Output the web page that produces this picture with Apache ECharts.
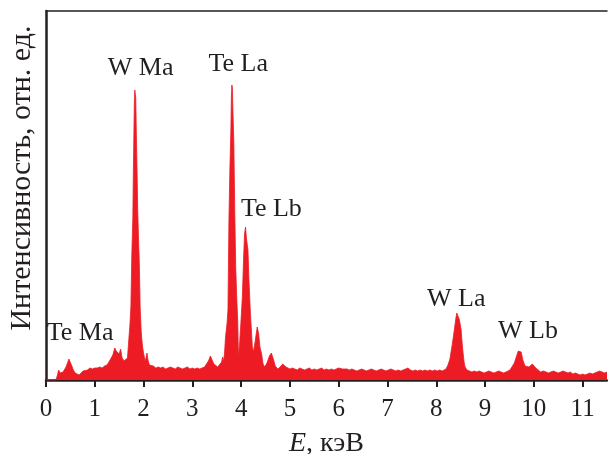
<!DOCTYPE html>
<html>
<head>
<meta charset="utf-8">
<script src="https://cdn.jsdelivr.net/npm/echarts@6/dist/echarts.min.js"></script>
<style>
html,body{margin:0;padding:0;background:#fff;}
#chart{width:608px;height:454px;}
</style>
</head>
<body>
<div id="chart"></div>
<script>
// Energy (keV) of each sampled channel
const energy = [
0.00,0.20,0.23,0.26,0.29,0.32,0.35,0.38,0.41,0.44,0.47,0.50,0.53,0.56,0.60,0.64,0.68,0.72,0.76,0.80,
0.85,0.90,0.95,1.00,1.05,1.10,1.15,1.20,1.25,1.29,1.33,1.37,1.41,1.44,1.47,1.50,1.53,1.56,1.60,1.64,
1.67,1.70,1.72,1.74,1.76,1.78,1.79,1.80,1.81,1.82,1.83,1.84,1.85,1.86,1.87,1.88,1.90,1.91,1.92,1.93,
1.95,1.96,1.98,2.00,2.03,2.05,2.07,2.09,2.12,2.16,2.20,2.25,2.30,2.35,2.40,2.45,2.50,2.55,2.60,2.65,
2.70,2.75,2.80,2.85,2.90,2.95,3.00,3.05,3.10,3.15,3.20,3.25,3.29,3.33,3.37,3.40,3.44,3.48,3.52,3.56,
3.60,3.62,3.64,3.66,3.68,3.71,3.73,3.75,3.77,3.79,3.80,3.81,3.82,3.83,3.85,3.87,3.89,3.91,3.93,3.945,
3.97,3.99,4.025,4.05,4.07,4.09,4.11,4.14,4.16,4.19,4.23,4.25,4.28,4.30,4.33,4.345,4.36,4.385,4.42,4.45,
4.48,4.53,4.58,4.62,4.66,4.70,4.75,4.80,4.85,4.88,4.92,4.96,5.00,5.05,5.10,5.15,5.20,5.25,5.30,5.35,
5.40,5.45,5.50,5.55,5.60,5.65,5.70,5.75,5.80,5.85,5.90,5.95,6.00,6.04,6.08,6.12,6.17,6.22,6.27,6.32,
6.37,6.42,6.47,6.52,6.57,6.62,6.67,6.72,6.77,6.82,6.87,6.92,6.97,7.02,7.07,7.12,7.17,7.22,7.27,7.32,
7.37,7.42,7.47,7.52,7.57,7.62,7.67,7.72,7.77,7.82,7.87,7.92,7.97,8.02,8.07,8.12,8.16,8.20,8.24,8.28,
8.32,8.35,8.37,8.40,8.42,8.45,8.47,8.49,8.51,8.53,8.55,8.57,8.59,8.63,8.68,8.73,8.78,8.83,8.88,8.93,
8.98,9.03,9.08,9.13,9.18,9.23,9.28,9.33,9.38,9.43,9.47,9.51,9.55,9.60,9.64,9.68,9.71,9.74,9.775,9.82,
9.86,9.90,9.94,9.97,10.00,10.04,10.08,10.14,10.20,10.25,10.30,10.35,10.40,10.45,10.50,10.55,10.60,10.65,10.70,10.75,
10.80,10.85,10.90,10.95,11.00,11.05,11.10,11.15,11.20,11.25,11.30,11.35,11.40,11.45,11.50
];
// Intensity (relative units) at each energy
const intensity = [
0,0,4,10,7,9,8,9,13,17,21,19,14,10,7,6,5,7,9,11,
10,12,11,12,12,13,12,14,15,18,20,25,32,29,31,26,31,22,19,17,
22,42,55,73,127,162,205,240,275,290,292,282,252,226,200,170,135,122,100,73,
50,43,33,27,19,22,27,20,15,13,14,12,13,12,13,11,12,13,12,11,
13,12,11,12,13,11,12,11,12,11,12,13,16,19,24,22,16,14,13,15,
18,23,19,27,43,56,70,160,212,250,282,295,292,272,238,167,112,82,60,23,
37,53,83,121,146,153,141,130,100,67,33,28,36,43,53,55,46,33,26,16,
13,17,24,27,21,14,11,13,16,17,13,11,11,12,11,10,12,11,10,11,
12,10,11,10,11,12,10,11,10,11,10,11,12,13,11,10,11,10,11,10,
9,10,11,10,9,10,11,10,9,10,11,10,9,10,11,10,9,10,9,10,
11,12,10,9,10,9,10,9,10,9,10,9,10,9,10,9,10,11,15,21,
33,43,50,61,67,65,61,56,50,37,27,18,13,10,9,8,9,8,9,8,
7,8,9,8,7,8,9,8,7,8,9,10,13,17,23,29,31,28,20,14,
12,13,15,16,14,12,10,8,9,8,7,8,9,8,7,8,9,8,7,8,
6,7,6,5,6,5,6,7,6,7,8,9,8,7,8
];
// Tick labels on the energy axis
const tickValues = [0,1,2,3,4,5,6,7,8,9,10,11];
// Peak annotations: name, energy (keV), intensity position
const peakNames = ['Te Ma','W Ma','Te La','Te Lb','W La','W Lb'];
const peakE = [0.70,1.94,3.94,4.62,8.41,9.88];
const peakI = [47,312,316,171,81,49];

const xMin = 0, xMax = 11.5, yMax = 369;

const spectrum = energy.map((e,i)=>[e,intensity[i]]);
const annotations = peakNames.map((n,i)=>({name:n,value:[peakE[i],peakI[i]]}));

const ink = '#231f20';
const red = '#ed1c24';
const serif = 'Liberation Serif';

const chart = echarts.init(document.getElementById('chart'), null, {renderer:'canvas'});
chart.setOption({
  animation:false,
  backgroundColor:'#fff',
  grid:{left:46,right:1,top:11,bottom:74,outerBoundsMode:'none',containLabel:false},
  xAxis:[{
    type:'value',min:xMin,max:xMax,
    position:'bottom',
    axisLine:{show:true,onZero:false,lineStyle:{color:ink,width:2.5}},
    axisTick:{show:true,inside:false,length:7,customValues:tickValues,lineStyle:{color:ink,width:2}},
    axisLabel:{show:true,customValues:tickValues,fontFamily:serif,fontSize:25,color:ink,margin:17},
    splitLine:{show:false},
    name:'{i|E}, кэВ',
    nameLocation:'middle',
    nameGap:50,
    nameTextStyle:{fontFamily:serif,fontSize:28,color:ink,
      rich:{i:{fontFamily:serif,fontStyle:'italic',fontSize:28,color:ink}}}
  },{
    type:'value',min:xMin,max:xMax,
    position:'top',
    axisLine:{show:true,onZero:false,lineStyle:{color:ink,width:1.5}},
    axisTick:{show:false},axisLabel:{show:false},splitLine:{show:false}
  }],
  yAxis:{
    type:'value',min:0,max:yMax,
    axisLine:{show:true,onZero:false,lineStyle:{color:ink,width:2.5}},
    axisTick:{show:false},axisLabel:{show:false},splitLine:{show:false},
    name:'Интенсивность, отн. ед.',
    nameLocation:'middle',
    nameRotate:90,
    nameGap:9,
    nameTextStyle:{fontFamily:serif,fontSize:30,color:ink,padding:[0,0,0,35]}
  },
  series:[{
    type:'line',
    xAxisIndex:0,
    data:spectrum,
    showSymbol:false,
    symbol:'none',
    smooth:false,
    lineStyle:{color:red,width:0.8},
    areaStyle:{color:red,opacity:1},
    z:2
  },{
    type:'scatter',
    xAxisIndex:0,
    data:annotations,
    symbolSize:1,
    itemStyle:{color:'rgba(0,0,0,0)',opacity:1},
    label:{show:true,position:'inside',formatter:'{b}',fontFamily:serif,fontSize:26,color:ink,opacity:1},
    silent:true,
    z:5
  }]
});
</script>
</body>
</html>
